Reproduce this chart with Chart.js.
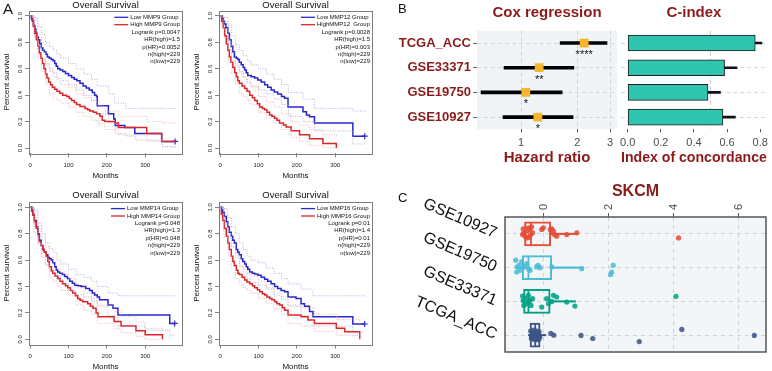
<!DOCTYPE html>
<html><head><meta charset="utf-8">
<script src="https://cdn.jsdelivr.net/npm/chart.js@4.4.1/dist/chart.umd.min.js"></script>
<style>
html,body{margin:0;padding:0;background:#fff;}
#wrap{position:relative;width:772px;height:371px;overflow:hidden;font-family:'Liberation Sans',Arial,sans-serif;}
canvas{position:absolute;left:0;top:0;}
.lab{position:absolute;color:#111;line-height:1;}
</style></head><body>
<div id="wrap">
<canvas id="km1" width="772" height="371"></canvas>
<canvas id="km2" width="772" height="371"></canvas>
<canvas id="km3" width="772" height="371"></canvas>
<canvas id="km4" width="772" height="371"></canvas>
<canvas id="cox" width="772" height="371"></canvas>
<canvas id="cidx" width="772" height="371"></canvas>
<canvas id="skcm" width="772" height="371"></canvas>
<div class="lab" style="left:3px;top:1px;font-size:15px">A</div>
<div class="lab" style="left:398px;top:2px;font-size:13px">B</div>
<div class="lab" style="left:398px;top:191px;font-size:13px">C</div>
</div>
<script>
// ---------------- DATA ----------------
const KM_XTICKS = [0, 100, 200, 300];
const KM_YTICKS = [0, 0.2, 0.4, 0.6, 0.8, 1.0];

// MMP9
const km9Low = [[0,1],[3,0.98],[6,0.96],[9,0.93],[12,0.9],[15,0.87],[18,0.84],[21,0.82],[25,0.79],[29,0.76],[33,0.74],[37,0.73],[41,0.71],[45,0.69],[50,0.68],[55,0.67],[60,0.66],[64,0.64],[68,0.62],[72,0.6],[78,0.59],[85,0.58],[92,0.565],[100,0.55],[108,0.535],[115,0.52],[122,0.51],[130,0.49],[138,0.47],[146,0.455],[154,0.44],[162,0.42],[168,0.4],[173,0.39],[175,0.32],[204,0.26],[218,0.22],[222,0.17],[247,0.155],[273,0.11],[343,0.05],[378,0.05]];
const km9High = [[0,1],[4,0.97],[8,0.92],[12,0.87],[16,0.82],[20,0.77],[24,0.72],[28,0.68],[32,0.64],[36,0.6],[40,0.56],[44,0.53],[48,0.5],[53,0.48],[58,0.46],[64,0.445],[70,0.43],[77,0.415],[85,0.4],[95,0.39],[102,0.375],[108,0.36],[115,0.345],[121,0.33],[130,0.315],[143,0.3],[150,0.29],[156,0.28],[165,0.27],[173,0.26],[182,0.24],[188,0.21],[195,0.2],[222,0.19],[230,0.155],[304,0.11],[343,0.05],[378,0.05]];
const km9LowUp = [[0,1],[10,0.99],[20,0.92],[30,0.86],[40,0.8],[50,0.77],[60,0.74],[70,0.71],[80,0.68],[100,0.64],[120,0.6],[140,0.56],[160,0.52],[175,0.47],[205,0.41],[220,0.34],[250,0.3],[380,0.29]];
const km9LowDn = [[0,1],[10,0.86],[20,0.74],[30,0.67],[40,0.63],[50,0.6],[60,0.57],[70,0.53],[80,0.51],[100,0.48],[120,0.44],[140,0.4],[160,0.36],[175,0.26],[205,0.19],[222,0.11],[250,0.09],[275,0.06],[345,0.01],[380,0.01]];
const km9HighUp = [[0,1],[10,0.97],[20,0.84],[30,0.74],[40,0.64],[50,0.58],[60,0.54],[70,0.5],[80,0.48],[100,0.46],[120,0.41],[140,0.38],[160,0.36],[180,0.32],[195,0.28],[230,0.24],[305,0.2],[345,0.19],[380,0.19]];
const km9HighDn = [[0,1],[10,0.84],[20,0.68],[30,0.58],[40,0.48],[50,0.41],[60,0.38],[70,0.36],[80,0.34],[100,0.31],[120,0.27],[140,0.24],[160,0.21],[180,0.18],[195,0.14],[230,0.1],[305,0.05],[345,0.01],[380,0.01]];
const km9Legend = ['Low MMP9 Group','High MMP9 Group','Logrank p=0.0047','HR(high)=1.5','p(HR)=0.0052','n(high)=229','n(low)=229'];

// MMP12
const km12Low = [[0,1],[4,0.98],[8,0.96],[11,0.94],[15,0.91],[20,0.87],[24,0.82],[29,0.77],[33,0.73],[37,0.69],[42,0.68],[46,0.67],[50,0.65],[55,0.63],[60,0.61],[64,0.59],[68,0.57],[72,0.55],[81,0.54],[90,0.53],[98,0.515],[107,0.5],[116,0.48],[124,0.46],[133,0.44],[141,0.425],[150,0.41],[160,0.39],[168,0.376],[177,0.31],[216,0.275],[225,0.25],[233,0.237],[246,0.19],[346,0.09],[377,0.09]];
const km12High = [[0,1],[4,0.96],[8,0.91],[12,0.85],[16,0.79],[20,0.74],[24,0.69],[28,0.65],[33,0.61],[38,0.57],[42,0.54],[46,0.51],[50,0.49],[57,0.47],[64,0.45],[70,0.43],[77,0.4],[84,0.38],[90,0.36],[97,0.335],[103,0.31],[110,0.3],[116,0.29],[122,0.27],[129,0.25],[135,0.24],[142,0.225],[148,0.21],[155,0.19],[165,0.175],[172,0.16],[185,0.13],[207,0.1],[233,0.07],[268,0.035],[303,0]];
const km12LowUp = [[0,1],[10,0.99],[20,0.93],[30,0.85],[40,0.78],[50,0.74],[60,0.7],[70,0.66],[80,0.63],[100,0.6],[120,0.56],[140,0.52],[160,0.48],[178,0.42],[216,0.37],[246,0.3],[346,0.28],[380,0.28]];
const km12LowDn = [[0,1],[10,0.9],[20,0.8],[30,0.7],[40,0.62],[50,0.58],[60,0.54],[70,0.5],[80,0.47],[100,0.44],[120,0.41],[140,0.37],[160,0.33],[178,0.24],[216,0.2],[246,0.13],[346,0.03],[380,0.03]];
const km12HighUp = [[0,1],[10,0.96],[20,0.82],[30,0.72],[40,0.63],[50,0.57],[60,0.53],[70,0.5],[80,0.46],[100,0.39],[120,0.35],[140,0.31],[160,0.26],[185,0.2],[207,0.17],[233,0.14],[268,0.1],[303,0.08]];
const km12HighDn = [[0,1],[10,0.84],[20,0.66],[30,0.57],[40,0.48],[50,0.42],[60,0.39],[70,0.36],[80,0.33],[100,0.27],[120,0.23],[140,0.19],[160,0.14],[185,0.08],[207,0.05],[233,0.02],[268,0],[303,0]];
const km12Legend = ['Low MMP12 Group','HighMMP12  Group','Logrank p=0.0028','HR(high)=1.5','p(HR)=0.003','n(high)=229','n(low)=229'];

// MMP14
const km14Low = [[0,1],[4,0.98],[7,0.95],[11,0.9],[16,0.85],[20,0.8],[24,0.75],[29,0.71],[33,0.68],[37,0.66],[42,0.64],[46,0.62],[50,0.61],[55,0.6],[59,0.58],[64,0.55],[68,0.525],[72,0.51],[77,0.5],[84,0.49],[90,0.475],[97,0.46],[103,0.44],[110,0.425],[116,0.41],[125,0.405],[133,0.4],[145,0.385],[155,0.37],[162,0.35],[168,0.336],[175,0.32],[181,0.3],[203,0.26],[216,0.235],[229,0.184],[364,0.12],[377,0.12]];
const km14High = [[0,1],[4,0.97],[7,0.94],[11,0.89],[16,0.84],[20,0.79],[24,0.74],[29,0.71],[33,0.68],[37,0.66],[42,0.63],[46,0.59],[50,0.55],[55,0.52],[59,0.5],[65,0.48],[72,0.46],[78,0.44],[85,0.42],[92,0.405],[98,0.39],[105,0.37],[111,0.35],[118,0.33],[124,0.31],[130,0.295],[137,0.285],[150,0.27],[157,0.25],[164,0.235],[172,0.2],[177,0.17],[219,0.135],[237,0.1],[276,0.065],[300,0.035],[345,0]];
const km14LowUp = [[0,1],[10,0.98],[20,0.88],[30,0.8],[40,0.73],[50,0.69],[60,0.66],[70,0.6],[80,0.57],[100,0.53],[120,0.49],[140,0.47],[160,0.44],[175,0.4],[203,0.35],[229,0.33],[377,0.33]];
const km14LowDn = [[0,1],[10,0.85],[20,0.72],[30,0.62],[40,0.57],[50,0.54],[60,0.51],[70,0.45],[80,0.42],[100,0.37],[120,0.34],[140,0.32],[160,0.29],[175,0.25],[203,0.18],[229,0.1],[300,0.07],[364,0.03],[377,0.03]];
const km14HighUp = [[0,1],[10,0.97],[20,0.86],[30,0.77],[40,0.7],[50,0.62],[60,0.56],[70,0.53],[80,0.5],[100,0.46],[120,0.39],[140,0.35],[160,0.31],[175,0.26],[219,0.21],[237,0.17],[276,0.13],[300,0.08],[345,0.06]];
const km14HighDn = [[0,1],[10,0.81],[20,0.72],[30,0.64],[40,0.56],[50,0.47],[60,0.44],[70,0.4],[80,0.37],[100,0.33],[120,0.26],[140,0.22],[160,0.19],[175,0.12],[219,0.08],[237,0.05],[276,0.02],[300,0],[345,0]];
const km14Legend = ['Low MMP14 Group','High MMP14 Group','Logrank p=0.048','HR(high)=1.3','p(HR)=0.048','n(high)=229','n(low)=229'];

// MMP16
const km16Low = [[0,1],[4,0.98],[7,0.96],[11,0.93],[16,0.89],[20,0.85],[24,0.81],[29,0.78],[33,0.75],[37,0.73],[42,0.68],[46,0.66],[50,0.64],[55,0.61],[59,0.59],[64,0.57],[68,0.55],[72,0.53],[77,0.51],[84,0.5],[90,0.495],[98,0.485],[107,0.47],[116,0.455],[124,0.44],[133,0.42],[142,0.4],[150,0.385],[159,0.37],[168,0.36],[177,0.32],[198,0.31],[211,0.27],[220,0.25],[233,0.21],[242,0.17],[346,0.116],[377,0.116]];
const km16High = [[0,1],[3,0.95],[7,0.9],[11,0.84],[16,0.78],[20,0.73],[24,0.68],[29,0.63],[33,0.59],[37,0.56],[42,0.525],[46,0.5],[50,0.49],[57,0.47],[64,0.45],[70,0.435],[77,0.42],[84,0.405],[90,0.39],[97,0.375],[103,0.36],[110,0.345],[116,0.335],[122,0.32],[129,0.31],[135,0.3],[142,0.285],[148,0.27],[155,0.26],[162,0.24],[168,0.22],[177,0.185],[211,0.17],[229,0.146],[246,0.12],[303,0.083],[325,0.058],[364,0]];
const km16LowUp = [[0,1],[10,0.99],[20,0.92],[30,0.85],[40,0.8],[50,0.73],[60,0.68],[70,0.63],[80,0.6],[100,0.58],[120,0.54],[140,0.5],[160,0.46],[177,0.42],[211,0.38],[242,0.33],[377,0.32]];
const km16LowDn = [[0,1],[10,0.87],[20,0.77],[30,0.7],[40,0.65],[50,0.55],[60,0.51],[70,0.46],[80,0.43],[100,0.41],[120,0.38],[140,0.33],[160,0.3],[177,0.25],[211,0.18],[242,0.1],[346,0.05],[377,0.05]];
const km16HighUp = [[0,1],[10,0.94],[20,0.82],[30,0.7],[40,0.62],[50,0.56],[60,0.53],[70,0.5],[80,0.48],[100,0.44],[120,0.39],[140,0.35],[160,0.32],[177,0.26],[211,0.24],[246,0.19],[303,0.15],[364,0.12]];
const km16HighDn = [[0,1],[10,0.78],[20,0.64],[30,0.55],[40,0.46],[50,0.42],[60,0.39],[70,0.37],[80,0.35],[100,0.31],[120,0.27],[140,0.23],[160,0.19],[177,0.12],[211,0.1],[246,0.06],[303,0.03],[364,0]];
const km16Legend = ['Low MMP16 Group','High MMP16 Group','Logrank p=0.01','HR(high)=1.4','p(HR)=0.01','n(high)=229','n(low)=229'];

// Panel B
const coxRows = ['TCGA_ACC', 'GSE33371', 'GSE19750', 'GSE10927'];
const coxHR = [2.18, 1.25, 1.06, 1.23];
const coxLow = [1.62, 0.81, 0.61, 0.80];
const coxHigh = [2.89, 1.92, 1.66, 1.90];
const coxStars = ['****', '**', '*', '*'];
const coxTicks = [1, 2, 3];
const cIndex = [0.77, 0.585, 0.485, 0.575];
const cIndexLow = [0.73, 0.51, 0.41, 0.50];
const cIndexHigh = [0.81, 0.66, 0.56, 0.65];
const cTicks = [0, 0.2, 0.4, 0.6, 0.8];

// Panel C
const skcmRows = ['GSE10927', 'GSE19750', 'GSE33371', 'TCGA_ACC'];
const skcmTicks = [0, 2, 4, 6];
const skcmQ1 = [-0.57, -0.64, -0.60, -0.40];
const skcmMed = [-0.37, -0.45, -0.45, -0.24];
const skcmQ3 = [0.24, 0.27, 0.22, -0.09];
const skcmWLo = [-0.65, -0.86, -0.66, -0.45];
const skcmWHi = [1.04, 1.24, 1.0, 0.08];
// [value, vertical jitter (rows)]
const skcm10927 = [[-0.61,-0.15],[-0.59,-0.03],[-0.55,0.07],[-0.5,-0.08],[-0.45,-0.18],[-0.4,-0.13],[-0.38,0.02],[-0.35,-0.21],[-0.32,-0.03],[-0.5,0.12],[-0.63,0.02],[-0.42,0.1],[-0.04,-0.13],[0.01,-0.18],[0.22,-0.13],[0.27,-0.15],[0.32,-0.08],[0.35,0.02],[0.42,0.07],[0.73,0.02],[1.04,-0.03],[4.17,0.12]];
const skcm19750 = [[-0.84,-0.22],[-0.79,-0.02],[-0.81,0.13],[-0.74,-0.07],[-0.71,0.08],[-0.66,-0.17],[-0.6,-0.02],[-0.55,-0.04],[-0.45,0.03],[-0.4,0.08],[-0.5,-0.12],[-0.2,-0.02],[-0.15,-0.07],[-0.09,0],[0.27,-0.02],[1.19,0.03],[2.16,-0.07],[2.11,0.13],[2.08,0.2]];
const skcm33371 = [[-0.63,-0.16],[-0.61,-0.03],[-0.59,0.12],[-0.55,-0.1],[-0.5,0.07],[-0.45,-0.18],[-0.4,-0.03],[-0.37,0.12],[-0.32,-0.08],[-0.45,0],[-0.04,0.17],[0.11,-0.08],[0.17,0.07],[0.27,0],[0.32,-0.18],[0.42,-0.13],[0.73,0.02],[0.98,0.14],[4.09,-0.15]];
const skcmTCGA = [[-0.38,-0.12],[-0.35,0.05],[-0.33,-0.05],[-0.3,0.12],[-0.28,-0.15],[-0.27,0],[-0.25,0.08],[-0.24,-0.08],[-0.22,0.14],[-0.21,-0.02],[-0.2,0.04],[-0.19,-0.12],[-0.17,0.1],[-0.16,-0.05],[-0.14,0.02],[-0.13,0.13],[-0.12,-0.1],[-0.1,0.06],[-0.3,-0.02],[-0.23,0.02],[-0.36,0.1],[0.24,-0.05],[0.33,0],[1.17,0.01],[1.53,0.1],[2.96,0.19],[4.27,-0.17],[6.5,0.01]];
const skcmPts = [skcm10927, skcm19750, skcm33371, skcmTCGA];
const skcmColors = ['#E64B35', '#4DBBD5', '#00A087', '#3C5488'];

// ---------------- STYLE ----------------
const FONT = "'Liberation Sans', Arial, Helvetica, sans-serif";
Chart.defaults.font.family = FONT;
Chart.defaults.color = '#222';
Chart.defaults.plugins.legend.display = false;
Chart.defaults.plugins.tooltip.enabled = false;
Chart.defaults.animation = false;
const BLUE = '#2727d0', RED = '#de2525', CI_BLUE = '#9c9cd6', CI_RED = '#f0a0a0';
const DRED = '#8B1A1A';
const W = 772, H = 371;

function kmChart(id, L, low, high, lowUp, lowDn, highUp, highDn, legend) {
  const line = (data, color, width, dash, endMark) => ({
    data, borderColor: color, borderWidth: width, borderDash: dash || [], stepped: 'before',
    pointRadius: endMark ? data.map((_, i) => i === data.length - 1 ? 3 : 0) : 0,
    pointStyle: 'cross', pointBorderColor: color, pointBorderWidth: 1.2, fill: false
  });
  const deco = {
    id: 'kmDeco',
    afterDraw(chart) {
      const c = chart.ctx, a = chart.chartArea;
      c.save();
      c.strokeStyle = '#7d7d7d'; c.lineWidth = 1;
      c.strokeRect(Math.round(a.left) + 0.5, Math.round(a.top) + 0.5, Math.round(a.right - a.left), Math.round(a.bottom - a.top));
      c.fillStyle = '#111'; c.font = '9.5px ' + FONT; c.textAlign = 'center'; c.textBaseline = 'middle';
      c.fillText('Overall Survival', (a.left + a.right) / 2, L.titleY);
      c.font = '6px ' + FONT;
      let y = a.top + 6.6;
      const w = Math.max(c.measureText(legend[0]).width, c.measureText(legend[1]).width);
      const tx = a.right - 2 - w;
      [[legend[0], BLUE], [legend[1], RED]].forEach(([t, col]) => {
        c.strokeStyle = col; c.lineWidth = 1.3; c.beginPath(); c.moveTo(tx - 16, y); c.lineTo(tx - 2, y); c.stroke();
        c.textAlign = 'left'; c.fillStyle = '#111'; c.fillText(t, tx, y); y += 7.4;
      });
      c.textAlign = 'right';
      legend.slice(2).forEach(t => { c.fillText(t, a.right - 2, y); y += 7.4; });
      c.restore();
    }
  };
  new Chart(document.getElementById(id), {
    type: 'line',
    data: { datasets: [
      line(lowUp, CI_BLUE, 0.8, [1, 1.5]), line(lowDn, CI_BLUE, 0.8, [1, 1.5]),
      line(highUp, CI_RED, 0.8, [1, 1.5]), line(highDn, CI_RED, 0.8, [1, 1.5]),
      line(high, RED, 1.5, [], false), line(low, BLUE, 1.5, [], true)
    ]},
    options: {
      responsive: false, devicePixelRatio: 1, animation: false,
      layout: { padding: { left: L.padL, top: L.t, right: W - L.r, bottom: H - L.b - L.xh } },
      scales: {
        x: { type: 'linear', min: -3, max: 396,
          afterBuildTicks: s => { s.ticks = KM_XTICKS.map(v => ({ value: v })); },
          afterFit: s => { s.height = L.xh; },
          ticks: { font: { size: 6 }, color: '#222', padding: 4.5, maxRotation: 0 },
          grid: { drawOnChartArea: false, drawTicks: true, tickLength: 4, tickColor: '#666', tickWidth: 0.8 },
          border: { display: false },
          title: { display: true, text: 'Months', font: { size: 8 }, color: '#111', padding: 0 } },
        y: { type: 'linear', min: -0.04, max: 1.04,
          afterBuildTicks: s => { s.ticks = KM_YTICKS.map(v => ({ value: v })); },
          afterFit: s => { s.width = L.l - L.padL; },
          ticks: { font: { size: 6 }, color: '#222', padding: 0, minRotation: 90, maxRotation: 90, crossAlign: 'center', callback: v => Number(v).toFixed(1) },
          grid: { drawOnChartArea: false, drawTicks: true, tickLength: 4, tickColor: '#666', tickWidth: 0.8 },
          border: { display: false },
          title: { display: true, text: 'Percent survival', font: { size: 8 }, color: '#111', padding: 0 } }
      }
    },
    plugins: [deco]
  });
}

kmChart('km1', { l: 29, r: 182, t: 10.7, b: 153.3, padL: 2, xh: 27.5, titleY: 5 }, km9Low, km9High, km9LowUp, km9LowDn, km9HighUp, km9HighDn, km9Legend);
kmChart('km2', { l: 219, r: 372, t: 10.7, b: 153.3, padL: 192, xh: 27.5, titleY: 5 }, km12Low, km12High, km12LowUp, km12LowDn, km12HighUp, km12HighDn, km12Legend);
kmChart('km3', { l: 29, r: 182, t: 202, b: 344.6, padL: 2, xh: 27.2, titleY: 195 }, km14Low, km14High, km14LowUp, km14LowDn, km14HighUp, km14HighDn, km14Legend);
kmChart('km4', { l: 219, r: 372, t: 202, b: 344.6, padL: 192, xh: 27.2, titleY: 195 }, km16Low, km16High, km16LowUp, km16LowDn, km16HighUp, km16HighDn, km16Legend);

// ---------- Cox regression ----------
const bgPlugin = (bg, stroke, sw) => ({
  id: 'bgp',
  beforeDraw(chart) {
    if (!bg) return;
    const c = chart.ctx, a = chart.chartArea;
    c.save(); c.fillStyle = bg; c.fillRect(a.left, a.top, a.right - a.left, a.bottom - a.top); c.restore();
  },
  afterDraw(chart) {
    if (!stroke) return;
    const c = chart.ctx, a = chart.chartArea;
    c.save(); c.strokeStyle = stroke; c.lineWidth = sw; c.strokeRect(a.left, a.top, a.right - a.left, a.bottom - a.top); c.restore();
  }
});
const titlePlugin = (text, dy, font, color) => ({
  id: 'ttl',
  afterDraw(chart) {
    const c = chart.ctx, a = chart.chartArea;
    c.save(); c.font = font; c.fillStyle = color; c.textAlign = 'center'; c.textBaseline = 'middle';
    c.fillText(text, (a.left + a.right) / 2, a.top - dy); c.restore();
  }
});
const starPlugin = {
  id: 'stars',
  afterDatasetsDraw(chart) {
    const c = chart.ctx, xs = chart.scales.x, ys = chart.scales.y;
    c.save(); c.font = '11px ' + FONT; c.fillStyle = '#111'; c.textAlign = 'center'; c.textBaseline = 'middle';
    coxStars.forEach((s, i) => c.fillText(s, xs.getPixelForValue(coxHR[i]), ys.getPixelForValue(i) + 12));
    c.restore();
  }
};
const B_T = 30.7, B_B = 129.4;
new Chart(document.getElementById('cox'), {
  type: 'bar',
  data: { labels: coxRows, datasets: [
    { type: 'scatter', data: coxHR.map((v, i) => ({ x: v, y: coxRows[i] })), pointStyle: 'rect', pointRadius: 6.2,
      backgroundColor: '#F7B52F', borderColor: '#F7B52F', borderWidth: 0, order: 0 },
    { type: 'bar', data: coxLow.map((v, i) => [v, coxHigh[i]]), backgroundColor: '#000', barThickness: 3, grouped: false, order: 1 }
  ]},
  options: {
    indexAxis: 'y', responsive: false, devicePixelRatio: 1, animation: false,
    layout: { padding: { left: 380, top: B_T, right: W - 617, bottom: H - B_B - 37.6 } },
    scales: {
      x: { type: 'logarithmic', min: 0.58, max: 3.27,
        afterBuildTicks: s => { s.ticks = coxTicks.map(v => ({ value: v })); },
        afterFit: s => { s.height = 37.6; },
        ticks: { font: { size: 11 }, color: '#4d4d4d', padding: 4, callback: v => String(v) },
        grid: { color: '#cfcfcf', lineWidth: 0.9, drawTicks: true, tickLength: 3, tickColor: '#333', tickWidth: 0.8, tickBorderDash: [] },
        border: { display: false, dash: [4, 3] },
        title: { display: true, text: 'Hazard ratio', font: { size: 15, weight: 'bold' }, color: DRED, padding: 0 } },
      y: { type: 'category', offset: true,
        afterFit: s => { s.width = 477 - 380; },
        ticks: { font: { size: 13, weight: 'bold' }, color: DRED, padding: 2 },
        grid: { offset: false, color: '#d2d2d2', lineWidth: 0.9, drawTicks: true, tickLength: 4, tickColor: '#444', tickWidth: 0.8, tickBorderDash: [] },
        border: { display: false, dash: [4, 3] } }
    }
  },
  plugins: [bgPlugin('#f1f4f7'), titlePlugin('Cox regression', 17.7, 'bold 15px ' + FONT, DRED), starPlugin]
});

// ---------- C-index ----------
const vlinePlugin = {
  id: 'vline',
  beforeDatasetsDraw(chart) {
    const c = chart.ctx, a = chart.chartArea, x = chart.scales.x.getPixelForValue(0.5);
    c.save(); c.strokeStyle = '#c4c4c4'; c.lineWidth = 0.9; c.setLineDash([4, 3]);
    c.beginPath(); c.moveTo(x, a.top); c.lineTo(x, a.bottom); c.stroke(); c.restore();
  }
};
new Chart(document.getElementById('cidx'), {
  type: 'bar',
  data: { labels: coxRows, datasets: [
    { data: cIndex, backgroundColor: '#2EC4AE', borderColor: '#1e1e1e', borderWidth: 1, borderSkipped: false, barThickness: 16, grouped: false, order: 1 },
    { data: cIndexLow.map((v, i) => [v, cIndexHigh[i]]), backgroundColor: '#111', barThickness: 2, grouped: false, order: 2 }
  ]},
  options: {
    indexAxis: 'y', responsive: false, devicePixelRatio: 1, animation: false,
    layout: { padding: { left: 600, top: B_T, right: W - 769, bottom: H - B_B - 37.6 } },
    scales: {
      x: { type: 'linear', min: -0.04, max: 0.84,
        afterBuildTicks: s => { s.ticks = cTicks.map(v => ({ value: v })); },
        afterFit: s => { s.height = 37.6; },
        ticks: { font: { size: 11 }, color: '#4d4d4d', padding: 4, callback: v => Number(v).toFixed(1) },
        grid: { drawOnChartArea: false, drawTicks: true, tickLength: 3, tickColor: '#333', tickWidth: 0.8 },
        border: { display: false },
        title: { display: true, text: 'Index of concordance', font: { size: 14.5, weight: 'bold' }, color: DRED, padding: 0 } },
      y: { type: 'category', offset: true,
        afterFit: s => { s.width = 21; },
        ticks: { display: false },
        grid: { offset: false, color: '#d2d2d2', lineWidth: 0.9, drawTicks: false },
        border: { display: false, dash: [4, 3] } }
    }
  },
  plugins: [vlinePlugin, titlePlugin('C-index', 17.7, 'bold 15px ' + FONT, DRED)]
});

// ---------- SKCM ----------
const medianPlugin = {
  id: 'median',
  afterDatasetsDraw(chart) {
    const c = chart.ctx, xs = chart.scales.x, ys = chart.scales.y;
    c.save(); c.lineWidth = 1.8;
    skcmMed.forEach((m, i) => {
      const x = xs.getPixelForValue(m), y = ys.getPixelForValue(i);
      c.strokeStyle = skcmColors[i]; c.beginPath(); c.moveTo(x, y - 12); c.lineTo(x, y + 12); c.stroke();
    });
    c.restore();
  }
};
// rotated top tick labels, placed from the x scale
const topTickPlugin = {
  id: 'topticks',
  afterDraw(chart) {
    const c = chart.ctx, xs = chart.scales.x, a = chart.chartArea;
    c.save(); c.font = '11px ' + FONT; c.fillStyle = '#4d4d4d'; c.textAlign = 'left'; c.textBaseline = 'middle';
    skcmTicks.forEach(v => {
      c.save(); c.translate(xs.getPixelForValue(v), a.top - 7); c.rotate(-Math.PI / 2);
      c.fillText(String(v), 0, 0.5); c.restore();
    });
    c.restore();
  }
};
const C_T = 217, C_B = 352, C_L = 505, C_R = 766;
const pointSets = skcmPts.map((pts, r) => ({
  type: 'scatter', yAxisID: 'y2',
  data: pts.map(p => ({ x: p[0], y: r + p[1] })),
  pointRadius: 2.6, pointBorderWidth: 0, backgroundColor: skcmColors[r] + 'dd', order: 0
}));
new Chart(document.getElementById('skcm'), {
  type: 'bar',
  data: { labels: skcmRows, datasets: [
    { data: skcmQ1.map((v, i) => [v, skcmQ3[i]]), backgroundColor: 'rgba(255,255,255,0)', borderColor: skcmColors, borderWidth: 1.4, borderSkipped: false, barThickness: 24, grouped: false, order: 2 },
    { data: skcmWLo.map((v, i) => [v, skcmQ1[i]]), backgroundColor: skcmColors, barThickness: 1.4, grouped: false, order: 2 },
    { data: skcmQ3.map((v, i) => [v, skcmWHi[i]]), backgroundColor: skcmColors, barThickness: 1.4, grouped: false, order: 2 },
    ...pointSets
  ]},
  options: {
    indexAxis: 'y', responsive: false, devicePixelRatio: 1, animation: false,
    layout: { padding: { left: 380, top: 190, right: W - C_R, bottom: H - C_B } },
    scales: {
      x: { type: 'linear', position: 'top', min: -1.17, max: 6.86,
        afterBuildTicks: s => { s.ticks = skcmTicks.map(v => ({ value: v })); },
        afterFit: s => { s.height = C_T - 190; },
        ticks: { display: false },
        grid: { color: '#cdcdcd', lineWidth: 0.9, drawTicks: true, tickLength: 4, tickColor: '#333', tickWidth: 0.8, tickBorderDash: [] },
        border: { display: false, dash: [4, 4] } },
      y: { type: 'category', offset: true,
        afterFit: s => { s.width = C_L - 380; },
        ticks: { font: { size: 16 }, color: '#111', padding: 9, minRotation: -23, maxRotation: -23 },
        grid: { offset: false, color: '#cdcdcd', lineWidth: 0.9, drawTicks: false },
        border: { display: false, dash: [4, 4] } },
      y2: { type: 'linear', min: -0.5, max: 3.5, reverse: true, offset: false, display: false, grid: { offset: false } }
    }
  },
  plugins: [bgPlugin('#f3f6f9', '#555', 1.5), medianPlugin, topTickPlugin, titlePlugin('SKCM', 25, 'bold 16px ' + FONT, DRED)]
});
</script>
</body></html>
